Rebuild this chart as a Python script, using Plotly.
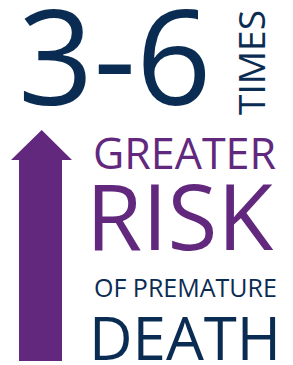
import plotly.graph_objects as go

# Infographic content
big_number = "3-6"
side_word = "TIMES"
lines = ["GREATER", "RISK", "OF PREMATURE", "DEATH"]
line_colors = ["purple", "purple", "navy", "navy"]
line_sizes = [43, 91, 25, 60]
line_x = [93.4, 86, 93.5, 89]
line_y = [152.7, 214.7, 287.2, 336.6]

# Arrow outline (page pixel space)
arrow_x = [19, 19, 11, 41.7, 72, 62, 62]
arrow_y = [361, 160, 160, 130, 160, 160, 361]

PURPLE = "#62287e"
NAVY = "#0b2c52"
cmap = {"purple": PURPLE, "navy": NAVY}
FONT = "Open Sans"
OFF = 8  # page body margin offset

fig = go.Figure()
fig.add_trace(go.Scatter(x=arrow_x, y=arrow_y, fill="toself", mode="lines",
                         line=dict(width=0, color=PURPLE), fillcolor=PURPLE,
                         hoverinfo="skip", showlegend=False))

ann = []
ann.append(dict(x=17.6, y=53.5, text=big_number, xanchor="left", yanchor="middle",
                height=107, valign="middle", borderpad=0, borderwidth=0,
                font=dict(family=FONT, size=132, color=NAVY), showarrow=False))
ann.append(dict(x=250.4, y=62.5, text=side_word, xanchor="center", yanchor="middle",
                height=32, valign="middle", borderpad=0, borderwidth=0,
                textangle=-90, font=dict(family=FONT, size=37, color=NAVY), showarrow=False))
for t, c, s, xx, yc in zip(lines, line_colors, line_sizes, line_x, line_y):
    ann.append(dict(x=xx, y=yc, text=t, xanchor="left", yanchor="middle",
                    height=round(0.86 * s, 1), valign="middle", borderpad=0, borderwidth=0,
                    font=dict(family=FONT, size=s, color=cmap[c]), showarrow=False))

fig.update_layout(
    width=293, height=365, margin=dict(l=0, r=0, t=0, b=0),
    paper_bgcolor="white", plot_bgcolor="white",
    xaxis=dict(range=[OFF, 293 + OFF], visible=False, fixedrange=True),
    yaxis=dict(range=[365 + OFF, OFF], visible=False, fixedrange=True),
    annotations=ann, showlegend=False,
)
fig.write_html("out.html", config={"displayModeBar": False})
